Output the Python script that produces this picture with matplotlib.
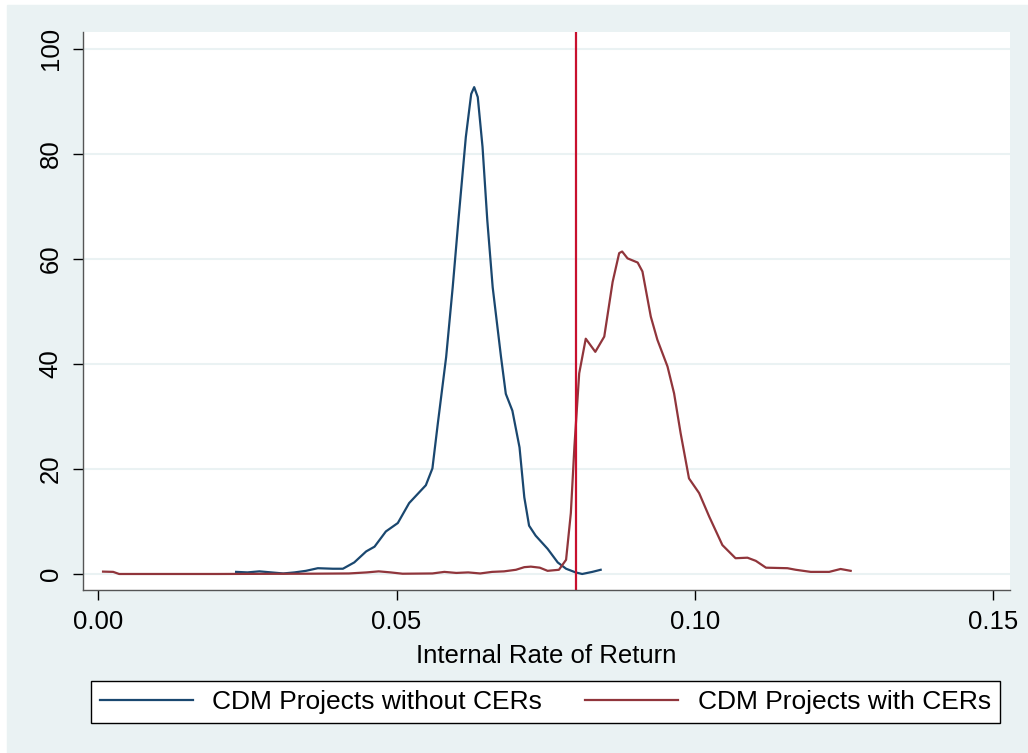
import matplotlib.pyplot as plt
from matplotlib.patches import Rectangle

plt.rcParams['font.family'] = ['Liberation Sans', 'DejaVu Sans']

# --- données ---
irr_sans = [0.0231, 0.0250, 0.0270, 0.0290, 0.0310, 0.0329, 0.0348, 0.0368, 0.0393, 0.0410,
            0.0429, 0.0449, 0.0463, 0.0482, 0.0502, 0.0521, 0.0549, 0.0560, 0.0569, 0.0583,
            0.0594, 0.0604, 0.0616, 0.0625, 0.0630, 0.0636, 0.0644, 0.0652, 0.0661, 0.0669,
            0.0675, 0.0683, 0.0694, 0.0706, 0.0714, 0.0722, 0.0733, 0.0753, 0.0770, 0.0784,
            0.0800, 0.0811, 0.0828, 0.0842]
dens_sans = [0.4, 0.3, 0.5, 0.3, 0.1, 0.3, 0.6, 1.1, 1.0, 1.0,
             2.2, 4.3, 5.2, 8.1, 9.7, 13.5, 16.9, 20.1, 28.6, 41.3,
             54.6, 67.9, 83.2, 91.4, 92.7, 90.8, 81.3, 67.3, 54.6, 47.0,
             41.3, 34.3, 31.1, 24.1, 14.6, 9.2, 7.3, 4.8, 2.2, 1.0,
             0.3, 0.0, 0.4, 0.8]

irr_avec = [0.0008, 0.0025, 0.0035, 0.0200, 0.0350, 0.0420, 0.0450, 0.0470, 0.0490, 0.0510,
            0.0560, 0.0580, 0.0600, 0.0620, 0.0640, 0.0660, 0.0680, 0.0700, 0.0714, 0.0725,
            0.0740, 0.0753, 0.0772, 0.0784, 0.0792, 0.0798, 0.0806, 0.0817, 0.0833, 0.0848,
            0.0862, 0.0873, 0.0878, 0.0887, 0.0904, 0.0912, 0.0926, 0.0937, 0.0954, 0.0965,
            0.0976, 0.0990, 0.1007, 0.1024, 0.1046, 0.1068, 0.1088, 0.1102, 0.1119, 0.1155,
            0.1169, 0.1194, 0.1225, 0.1244, 0.1261]
dens_avec = [0.45, 0.4, 0.0, 0.0, 0.05, 0.1, 0.3, 0.5, 0.3, 0.05,
             0.1, 0.4, 0.2, 0.3, 0.1, 0.4, 0.5, 0.8, 1.3, 1.4,
             1.2, 0.6, 0.8, 2.7, 11.6, 24.3, 38.2, 44.8, 42.3, 45.2,
             55.6, 61.1, 61.4, 60.1, 59.3, 57.6, 49.0, 44.6, 39.5, 34.4,
             26.8, 18.2, 15.4, 10.9, 5.5, 3.0, 3.1, 2.5, 1.2, 1.1,
             0.8, 0.4, 0.4, 0.95, 0.6]

seuil = 0.08
yticks = [0, 20, 40, 60, 80, 100]
xticks = [0.00, 0.05, 0.10, 0.15]

# --- figure ---
fig = plt.figure(figsize=(10.28, 7.53), dpi=100, facecolor='white')
fond = Rectangle((7 / 1028, 0), 1, 1 - 5 / 753, transform=fig.transFigure,
                 color='#EAF2F3', zorder=-10)
fig.patches.append(fond)

ax = fig.add_axes([83 / 1028, 163 / 753, 927 / 1028, 558 / 753])
ax.set_facecolor('white')

ax.plot(irr_sans, dens_sans, color='#1A476F', lw=1.6, label='CDM Projects without CERs')
ax.plot(irr_avec, dens_avec, color='#90353B', lw=1.6, label='CDM Projects with CERs')
ax.axvline(seuil, color='#C8102E', lw=1.6)

ax.set_xlim(-0.00256, 0.1528)
ax.set_ylim(-3.05, 103.2)
ax.set_xticks(xticks)
ax.set_xticklabels([f"{t:.2f}" for t in xticks])
ax.set_yticks(yticks)
ax.set_yticklabels([str(t) for t in yticks], rotation=90, va='center')
ax.tick_params(labelsize=18.5, length=7.5, width=1, direction='out', pad=7, colors='black')
ax.grid(axis='y', color='#EAF2F3', lw=1.5)
ax.set_axisbelow(True)

for s in ['top', 'right']:
    ax.spines[s].set_visible(False)
for s in ['left', 'bottom']:
    ax.spines[s].set_color('#555555')
    ax.spines[s].set_linewidth(1)

ax.set_xlabel("Internal Rate of Return", fontsize=18.5, labelpad=7)

leg = fig.legend(loc='lower left', ncol=2, mode='expand',
                 bbox_to_anchor=(91 / 1028, 30 / 753, 909 / 1028, 48 / 753),
                 fontsize=19, frameon=True, fancybox=False, framealpha=1,
                 handlelength=3.5, handletextpad=0.75, borderpad=0.35, borderaxespad=0)
leg.get_frame().set_edgecolor('black')
leg.get_frame().set_linewidth(1)

plt.savefig('out.png', dpi=100, facecolor=fig.get_facecolor())
